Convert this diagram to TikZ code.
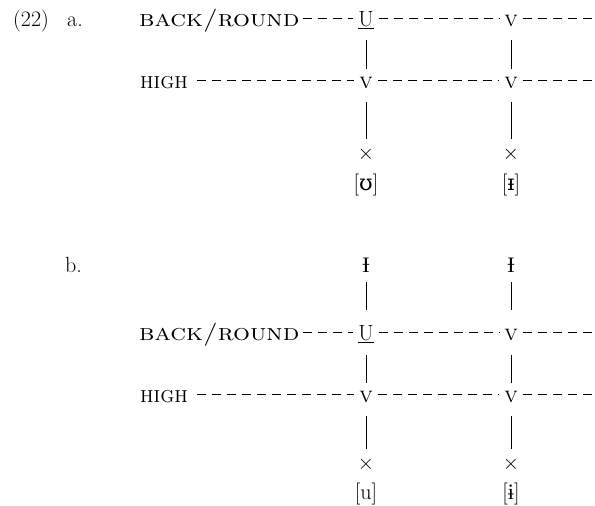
\documentclass[tikz,border=0pt]{standalone}
\usepackage{fontspec}
\usepackage{graphicx}
\newfontfamily\ipa{DejaVu Serif}
\newfontfamily\ipb{Liberation Serif}
\newcommand{\brlabel}{\scalebox{1.21}[1.05]{\textsc{back/round}}}
\newcommand{\hilabel}{\scalebox{1}[1.05]{\textsc{high}}}
\begin{document}
\begin{tikzpicture}[x=1pt,y=-1pt,
  every node/.style={inner sep=0pt,font=\fontsize{22}{26}\selectfont},
  num/.style={anchor=base west},
  lab/.style={anchor=base west, text height=15pt, text depth=0pt},
  seg/.style={anchor=base, text height=15pt, text depth=0pt, inner xsep=5pt},
  cross/.style={anchor=center},
  phone/.style={anchor=base},
  dsh/.style={line width=1.4pt, dash pattern=on 9pt off 6pt},
  vl/.style={line width=0.9pt}]
\useasboundingbox (0,0) rectangle (595,506);
% ---------- (22) a.
\node[num] (numa) at (13,26) {(22)};
\node[num] (leta) at (67,26) {a.};
\node[lab] (bra) at (139,26) {\brlabel};
\node[lab] (hia) at (140,88) {\hilabel};
\node[seg] (Ua) at (366,26) {\underline{U}};
\node[seg] (va1) at (511,26) {\textsc{v}};
\node[seg] (va2) at (366,88) {\textsc{v}};
\node[seg] (va3) at (511,88) {\textsc{v}};
\coordinate (ea1) at (595,18.5);
\coordinate (ea2) at (595,80.5);
\node[cross] (xa1) at (366,154) {$\times$};
\node[cross] (xa2) at (511,154) {$\times$};
\node[phone] (pa1) at (366,190) {[{\ipa ʊ}]};
\node[phone] (pa2) at (511,190) {[{\ipa ᵻ}]};
\draw[dsh] ([xshift=3pt]bra.east) -- (Ua.west);
\draw[dsh] (Ua.east) -- (va1.west);
\draw[dsh] (va1.east) -- (ea1);
\draw[dsh] ([xshift=9pt]hia.east) -- (va2.west);
\draw[dsh] (va2.east) -- (va3.west);
\draw[dsh] (va3.east) -- (ea2);
\draw[vl, shorten <=14pt, shorten >=4pt] (Ua.south) -- (va2.north);
\draw[vl, shorten <=14pt, shorten >=4pt] (va1.south) -- (va3.north);
\draw[vl, shorten <=14pt, shorten >=8pt] (va2.south) -- (xa1.north);
\draw[vl, shorten <=14pt, shorten >=8pt] (va3.south) -- (xa2.north);
% ---------- b.
\node[num] (letb) at (65,272) {b.};
\node[seg] (Ib1) at (366,272) {{\ipb Ɨ}};
\node[seg] (Ib2) at (511,272) {{\ipb Ɨ}};
\node[lab] (brb) at (139,340) {\brlabel};
\node[lab] (hib) at (140,402) {\hilabel};
\node[seg] (Ub) at (366,340) {\underline{U}};
\node[seg] (vb1) at (511,340) {\textsc{v}};
\node[seg] (vb2) at (366,402) {\textsc{v}};
\node[seg] (vb3) at (511,402) {\textsc{v}};
\coordinate (eb1) at (595,332.5);
\coordinate (eb2) at (595,394.5);
\node[cross] (xb1) at (366,464) {$\times$};
\node[cross] (xb2) at (511,464) {$\times$};
\node[phone] (pb1) at (366,499) {[u]};
\node[phone] (pb2) at (511,499) {[{\ipb ɨ}]};
\draw[dsh] ([xshift=3pt]brb.east) -- (Ub.west);
\draw[dsh] (Ub.east) -- (vb1.west);
\draw[dsh] (vb1.east) -- (eb1);
\draw[dsh] ([xshift=9pt]hib.east) -- (vb2.west);
\draw[dsh] (vb2.east) -- (vb3.west);
\draw[dsh] (vb3.east) -- (eb2);
\draw[vl, shorten <=10pt, shorten >=15pt] (Ib1.south) -- (Ub.north);
\draw[vl, shorten <=10pt, shorten >=15pt] (Ib2.south) -- (vb1.north);
\draw[vl, shorten <=15pt, shorten >=4pt] (Ub.south) -- (vb2.north);
\draw[vl, shorten <=15pt, shorten >=4pt] (vb1.south) -- (vb3.north);
\draw[vl, shorten <=14pt, shorten >=8pt] (vb2.south) -- (xb1.north);
\draw[vl, shorten <=14pt, shorten >=8pt] (vb3.south) -- (xb2.north);
\end{tikzpicture}
\end{document}
